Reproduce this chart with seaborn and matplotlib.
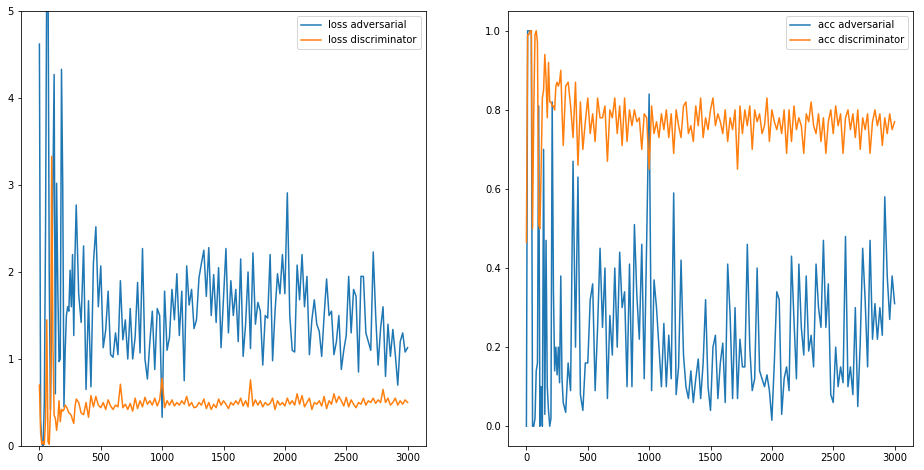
import matplotlib
matplotlib.use("Agg")
import matplotlib.pyplot as plt
import seaborn as sns
import pandas as pd

# training steps (dense at the start, every 20 after 300) ---------------------
steps = list(range(0, 300, 10)) + list(range(300, 3001, 20))

# loss values ---------------------------------------------------------------
loss_adv = [4.62, 0.3, 0.02, 0.0, 0.5, 2.5, 5.5, 5.5, 2.0, 0.42,
            1.5, 3.0, 4.27, 0.6, 3.02, 1.8, 0.97, 1.0, 4.33, 3.0,
            0.45, 1.1, 1.5, 1.6, 1.55, 2.02, 1.6, 2.2, 1.27, 2.2,
            2.77, 1.75, 1.42, 2.3, 0.65, 1.67, 0.68, 2.1, 2.52, 1.6,
            2.07, 1.13, 1.33, 1.78, 1.05, 1.02, 1.3, 1.05, 1.9, 1.22,
            1.45, 1.0, 1.58, 1.0, 1.25, 1.88, 1.07, 2.27, 1.0, 0.77,
            1.2, 1.55, 0.88, 1.58, 1.5, 0.33, 1.78, 1.1, 1.25, 1.8,
            1.45, 1.98, 1.27, 1.78, 0.75, 2.07, 1.62, 1.8, 1.35, 1.45,
            1.93, 2.1, 2.25, 1.72, 2.28, 1.5, 1.97, 1.42, 2.05, 1.13,
            1.7, 2.27, 1.3, 1.9, 1.5, 1.8, 1.2, 2.15, 1.03, 1.4,
            2.0, 1.12, 2.22, 1.4, 1.65, 1.55, 0.93, 1.5, 1.47, 2.2,
            0.98, 1.55, 1.98, 1.75, 2.2, 1.75, 2.91, 1.5, 1.1, 1.08,
            2.08, 1.68, 2.2, 1.6, 1.95, 1.05, 1.45, 1.68, 1.4, 1.32,
            1.03, 1.5, 1.92, 1.5, 1.55, 1.05, 1.2, 1.5, 0.88, 1.1,
            1.27, 1.95, 1.3, 1.8, 1.72, 0.85, 1.95, 1.95, 1.3, 1.2,
            1.1, 2.23, 1.5, 0.93, 1.35, 1.6, 0.8, 1.4, 1.03, 1.34,
            1.05, 0.7, 1.2, 1.3, 1.08, 1.13]

loss_disc = [0.7, 0.15, 0.02, 0.05, 0.02, 0.3, 1.45, 0.05, 0.02, 0.4,
             3.33, 1.2, 0.35, 0.32, 0.18, 0.3, 0.52, 0.28, 0.42, 0.4,
             0.42, 0.47, 0.45, 0.42, 0.38, 0.37, 0.35, 0.3, 0.26, 0.45,
             0.54, 0.5, 0.38, 0.36, 0.5, 0.33, 0.58, 0.45, 0.57, 0.47,
             0.44, 0.5, 0.42, 0.53, 0.46, 0.42, 0.47, 0.45, 0.71, 0.44,
             0.48, 0.42, 0.49, 0.4, 0.55, 0.43, 0.52, 0.45, 0.56, 0.48,
             0.52, 0.47, 0.55, 0.46, 0.53, 0.78, 0.44, 0.52, 0.47, 0.53,
             0.46, 0.5, 0.47, 0.52, 0.48, 0.57, 0.46, 0.5, 0.44, 0.45,
             0.5, 0.47, 0.54, 0.43, 0.5, 0.42, 0.48, 0.44, 0.54, 0.47,
             0.52, 0.48, 0.43, 0.5, 0.47, 0.52, 0.48, 0.55, 0.46, 0.52,
             0.45, 0.76, 0.46, 0.53, 0.47, 0.52, 0.45, 0.5, 0.47, 0.49,
             0.55, 0.42, 0.52, 0.47, 0.5, 0.46, 0.55, 0.48, 0.52, 0.47,
             0.6, 0.48, 0.58, 0.45, 0.5, 0.55, 0.42, 0.5, 0.48, 0.52,
             0.46, 0.57, 0.43, 0.52, 0.48, 0.6, 0.5, 0.57, 0.52, 0.46,
             0.56, 0.45, 0.53, 0.48, 0.44, 0.5, 0.48, 0.55, 0.47, 0.52,
             0.5, 0.55, 0.49, 0.53, 0.5, 0.65, 0.5, 0.55, 0.47, 0.5,
             0.55, 0.47, 0.52, 0.48, 0.53, 0.5]

# accuracy values -----------------------------------------------------------
acc_adv = [0.0, 1.0, 1.0, 1.0, 1.0, 0.0, 0.0, 0.02, 0.14, 0.16,
           0.81, 0.0, 0.1, 0.0, 0.7, 0.03, 0.47, 0.1, 0.04, 0.0,
           0.02, 0.82, 0.35, 0.14, 0.2, 0.13, 0.2, 0.11, 0.38, 0.12,
           0.06, 0.035, 0.16, 0.09, 0.67, 0.2, 0.63, 0.08, 0.04, 0.16,
           0.16, 0.32, 0.36, 0.09, 0.25, 0.45, 0.25, 0.4, 0.07, 0.28,
           0.18, 0.4, 0.2, 0.44, 0.3, 0.34, 0.1, 0.41, 0.1, 0.51,
           0.33, 0.22, 0.46, 0.12, 0.47, 0.84, 0.09, 0.37, 0.3, 0.2,
           0.1, 0.26, 0.1, 0.23, 0.12, 0.59, 0.08, 0.15, 0.42, 0.18,
           0.1, 0.07, 0.14, 0.06, 0.12, 0.17, 0.07, 0.16, 0.32, 0.1,
           0.04, 0.2, 0.23, 0.07, 0.16, 0.21, 0.06, 0.41, 0.28, 0.07,
           0.3, 0.07, 0.22, 0.15, 0.15, 0.46, 0.2, 0.09, 0.12, 0.4,
           0.14, 0.12, 0.1, 0.13, 0.09, 0.015, 0.16, 0.34, 0.32, 0.03,
           0.12, 0.15, 0.09, 0.43, 0.27, 0.12, 0.41, 0.25, 0.18, 0.38,
           0.19, 0.23, 0.15, 0.41, 0.3, 0.25, 0.47, 0.25, 0.36, 0.08,
           0.06, 0.2, 0.1, 0.15, 0.11, 0.48, 0.1, 0.15, 0.08, 0.3,
           0.05, 0.21, 0.45, 0.32, 0.15, 0.47, 0.22, 0.31, 0.22, 0.3,
           0.23, 0.58, 0.38, 0.27, 0.38, 0.31]

acc_disc = [0.465, 0.99, 0.99, 1.0, 1.0, 0.5, 0.8, 0.99, 1.0, 0.97,
            0.51, 0.5, 0.65, 0.83, 0.85, 0.94, 0.88, 0.78, 0.92, 0.82,
            0.82, 0.81, 0.81, 0.8, 0.86, 0.87, 0.86, 0.87, 0.9, 0.8,
            0.71, 0.86, 0.87, 0.81, 0.73, 0.87, 0.66, 0.82, 0.7, 0.77,
            0.83, 0.74, 0.79, 0.72, 0.83, 0.78, 0.78, 0.81, 0.67, 0.8,
            0.78, 0.83, 0.74, 0.81, 0.71, 0.83, 0.72, 0.8, 0.76, 0.8,
            0.77, 0.78, 0.7, 0.79, 0.78, 0.65, 0.81, 0.74, 0.77, 0.73,
            0.79, 0.75, 0.8, 0.73, 0.79, 0.69, 0.8, 0.76, 0.73, 0.81,
            0.82, 0.74, 0.76, 0.72, 0.81, 0.76, 0.83, 0.73, 0.78, 0.75,
            0.8, 0.83, 0.76, 0.79, 0.77, 0.74, 0.8, 0.72, 0.78, 0.75,
            0.8, 0.65, 0.81, 0.74, 0.8, 0.76, 0.81, 0.7, 0.8, 0.77,
            0.79, 0.74, 0.76, 0.83, 0.72, 0.8, 0.77, 0.75, 0.78, 0.74,
            0.8, 0.69, 0.8, 0.72, 0.81, 0.75, 0.78, 0.76, 0.69, 0.79,
            0.77, 0.82, 0.76, 0.74, 0.79, 0.72, 0.78, 0.69, 0.77, 0.8,
            0.74, 0.81, 0.76, 0.79, 0.69, 0.78, 0.8, 0.75, 0.79, 0.73,
            0.8, 0.7, 0.78, 0.75, 0.79, 0.69, 0.77, 0.8, 0.76, 0.79,
            0.71, 0.78, 0.74, 0.79, 0.75, 0.77]

# build a dataframe ---------------------------------------------------------
hist_df = pd.DataFrame({
    'step': steps,
    'loss adversarial': loss_adv,
    'loss discriminator': loss_disc,
    'acc adversarial': acc_adv,
    'acc discriminator': acc_disc,
})

blue = '#1f77b4'
orange = '#ff7f0e'

fig = plt.figure(figsize=(924 / 72, 470 / 72), dpi=72)
ax1 = fig.add_axes([21 / 924, 24 / 470, 405 / 924, 435 / 470])
ax2 = fig.add_axes([508 / 924, 24 / 470, 405 / 924, 435 / 470])

# left: losses
sns.lineplot(x='step', y='loss adversarial', data=hist_df, ax=ax1,
             color=blue, label='loss adversarial', estimator=None)
sns.lineplot(x='step', y='loss discriminator', data=hist_df, ax=ax1,
             color=orange, label='loss discriminator', estimator=None)
ax1.set_ylim(0, 5)
ax1.set_xlabel('')
ax1.set_ylabel('')
ax1.legend(loc='upper right')

# right: accuracies
sns.lineplot(x='step', y='acc adversarial', data=hist_df, ax=ax2,
             color=blue, label='acc adversarial', estimator=None)
sns.lineplot(x='step', y='acc discriminator', data=hist_df, ax=ax2,
             color=orange, label='acc discriminator', estimator=None)
ax2.set_xlabel('')
ax2.set_ylabel('')
ax2.legend(loc='upper right')

for ax in (ax1, ax2):
    ax.set_xticks([0, 500, 1000, 1500, 2000, 2500, 3000])
    ax.set_xlim(-150, 3150)

fig.savefig('out.png', dpi=72)
